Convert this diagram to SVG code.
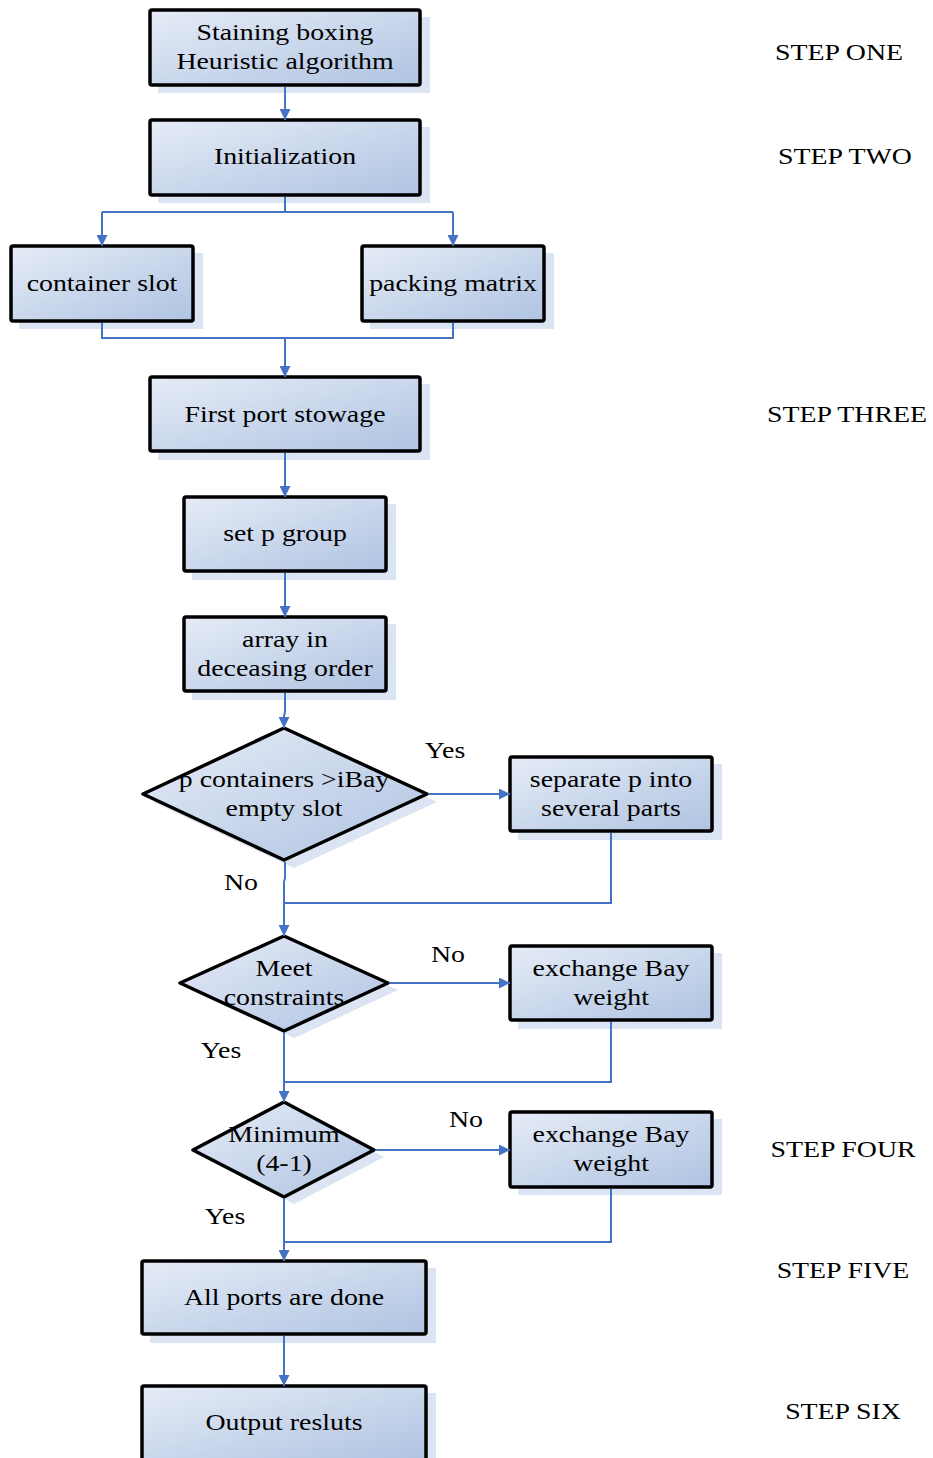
<svg xmlns="http://www.w3.org/2000/svg" width="933" height="1458" viewBox="0 0 933 1458">
<defs>
<linearGradient id="g" x1="0" y1="0" x2="1" y2="1">
<stop offset="0" stop-color="#e6ecf7"/>
<stop offset="1" stop-color="#afc3e1"/>
</linearGradient>
<marker id="a" viewBox="0 0 10 10" refX="10" refY="5" markerWidth="12" markerHeight="11" markerUnits="userSpaceOnUse" orient="auto">
<path d="M0,0 L10,5 L0,10 Z" fill="#4472c4"/>
</marker>
</defs>
<style>
.sh{fill:#dae4f2}
.bx{fill:url(#g);stroke:#000;stroke-width:3.5}
.c{fill:none;stroke:#4472c4;stroke-width:2}
.ar{marker-end:url(#a)}
text{font-family:"Liberation Serif","Times New Roman",serif;font-size:24px;fill:#000;text-anchor:middle}
</style>
<rect width="933" height="1458" fill="#fff"/>

<g id="n1">
<rect class="sh" x="158" y="17" width="272" height="76"/>
<rect class="bx" x="150" y="10" width="270" height="75" rx="2"/>
<g transform="translate(285,40) scale(1.16,1)"><text>Staining boxing</text></g>
<g transform="translate(285,69) scale(1.16,1)"><text>Heuristic algorithm</text></g>
</g>
<g id="n2">
<rect class="sh" x="158" y="127" width="272" height="76"/>
<rect class="bx" x="150" y="120" width="270" height="75" rx="2"/>
<g transform="translate(285,164) scale(1.16,1)"><text>Initialization</text></g>
</g>
<g id="n3">
<rect class="sh" x="19" y="253" width="184" height="76"/>
<rect class="bx" x="11" y="246" width="182" height="75" rx="2"/>
<g transform="translate(102,291) scale(1.16,1)"><text>container slot</text></g>
</g>
<g id="n4">
<rect class="sh" x="370" y="253" width="184" height="76"/>
<rect class="bx" x="362" y="246" width="182" height="75" rx="2"/>
<g transform="translate(453,291) scale(1.16,1)"><text>packing matrix</text></g>
</g>
<g id="n5">
<rect class="sh" x="158" y="384" width="272" height="76"/>
<rect class="bx" x="150" y="377" width="270" height="74" rx="2"/>
<g transform="translate(285,422) scale(1.16,1)"><text>First port stowage</text></g>
</g>
<g id="n6">
<rect class="sh" x="192" y="504" width="204" height="76"/>
<rect class="bx" x="184" y="497" width="202" height="74" rx="2"/>
<g transform="translate(285,541) scale(1.16,1)"><text>set p group</text></g>
</g>
<g id="n7">
<rect class="sh" x="192" y="624" width="204" height="76"/>
<rect class="bx" x="184" y="617" width="202" height="74" rx="2"/>
<g transform="translate(285,647) scale(1.16,1)"><text>array in</text></g>
<g transform="translate(285,676) scale(1.16,1)"><text>deceasing order</text></g>
</g>
<g id="d1">
<polygon class="sh" points="294,736 437,802 294,868 153,802"/>
<polygon class="bx" points="284,728 427,794 284,860 143,794" stroke-linejoin="round"/>
<g transform="translate(284,787) scale(1.16,1)"><text>p containers &gt;iBay</text></g>
<g transform="translate(284,816) scale(1.16,1)"><text>empty slot</text></g>
</g>
<g id="n8">
<rect class="sh" x="518" y="764" width="204" height="76"/>
<rect class="bx" x="510" y="757" width="202" height="74" rx="2"/>
<g transform="translate(611,787) scale(1.16,1)"><text>separate p into</text></g>
<g transform="translate(611,816) scale(1.16,1)"><text>several parts</text></g>
</g>
<g id="d2">
<polygon class="sh" points="294,943 398,990 294,1038 190,990"/>
<polygon class="bx" points="284,936 388,983 284,1031 180,983" stroke-linejoin="round"/>
<g transform="translate(284,976) scale(1.16,1)"><text>Meet</text></g>
<g transform="translate(284,1005) scale(1.16,1)"><text>constraints</text></g>
</g>
<g id="n9">
<rect class="sh" x="518" y="953" width="204" height="76"/>
<rect class="bx" x="510" y="946" width="202" height="74" rx="2"/>
<g transform="translate(611,976) scale(1.16,1)"><text>exchange Bay</text></g>
<g transform="translate(611,1005) scale(1.16,1)"><text>weight</text></g>
</g>
<g id="d3">
<polygon class="sh" points="294,1109 384,1157 294,1204 203,1157"/>
<polygon class="bx" points="284,1102 374,1150 284,1197 193,1150" stroke-linejoin="round"/>
<g transform="translate(284,1142) scale(1.16,1)"><text>Minimum</text></g>
<g transform="translate(284,1171) scale(1.16,1)"><text>(4-1)</text></g>
</g>
<g id="n10">
<rect class="sh" x="518" y="1119" width="204" height="76"/>
<rect class="bx" x="510" y="1112" width="202" height="75" rx="2"/>
<g transform="translate(611,1142) scale(1.16,1)"><text>exchange Bay</text></g>
<g transform="translate(611,1171) scale(1.16,1)"><text>weight</text></g>
</g>
<g id="n11">
<rect class="sh" x="150" y="1268" width="286" height="75"/>
<rect class="bx" x="142" y="1261" width="284" height="73" rx="2"/>
<g transform="translate(284,1305) scale(1.16,1)"><text>All ports are done</text></g>
</g>
<g id="n12">
<rect class="sh" x="150" y="1393" width="286" height="75"/>
<rect class="bx" x="142" y="1386" width="284" height="74" rx="2"/>
<g transform="translate(284,1430) scale(1.16,1)"><text>Output resluts</text></g>
</g>

<g id="connectors">
<path class="c ar" d="M285,87 V120"/>
<path class="c" d="M285,197 V212 M102,212 H453"/>
<path class="c ar" d="M102,212 V246"/>
<path class="c ar" d="M453,212 V246"/>
<path class="c" d="M102,323 V338 H453 V323"/>
<path class="c ar" d="M285,338 V377"/>
<path class="c ar" d="M285,453 V497"/>
<path class="c ar" d="M285,573 V617"/>
<path class="c ar" d="M285,693 V712 L284,716 V728"/>
<path class="c ar" d="M429,794 H510"/>
<path class="c" d="M611,833 V903 H284"/>
<path class="c ar" d="M285,862 V878 L284,882 V936"/>
<path class="c ar" d="M390,983 H510"/>
<path class="c" d="M611,1022 V1082 H284"/>
<path class="c ar" d="M284,1033 V1102"/>
<path class="c ar" d="M376,1150 H510"/>
<path class="c" d="M611,1189 V1242 H284"/>
<path class="c ar" d="M284,1199 V1261"/>
<path class="c ar" d="M284,1336 V1386"/>
</g>

<g id="labels">
<g transform="translate(445,758) scale(1.16,1)"><text>Yes</text></g>
<g transform="translate(241,890) scale(1.16,1)"><text>No</text></g>
<g transform="translate(448,962) scale(1.16,1)"><text>No</text></g>
<g transform="translate(221,1058) scale(1.16,1)"><text>Yes</text></g>
<g transform="translate(466,1127) scale(1.16,1)"><text>No</text></g>
<g transform="translate(225,1224) scale(1.16,1)"><text>Yes</text></g>
</g>
<g id="steps">
<g transform="translate(839,60) scale(1.16,1)"><text>STEP ONE</text></g>
<g transform="translate(845,164) scale(1.16,1)"><text>STEP TWO</text></g>
<g transform="translate(847,422) scale(1.16,1)"><text>STEP THREE</text></g>
<g transform="translate(843,1157) scale(1.16,1)"><text>STEP FOUR</text></g>
<g transform="translate(843,1278) scale(1.16,1)"><text>STEP FIVE</text></g>
<g transform="translate(843,1419) scale(1.16,1)"><text>STEP SIX</text></g>
</g>
</svg>
